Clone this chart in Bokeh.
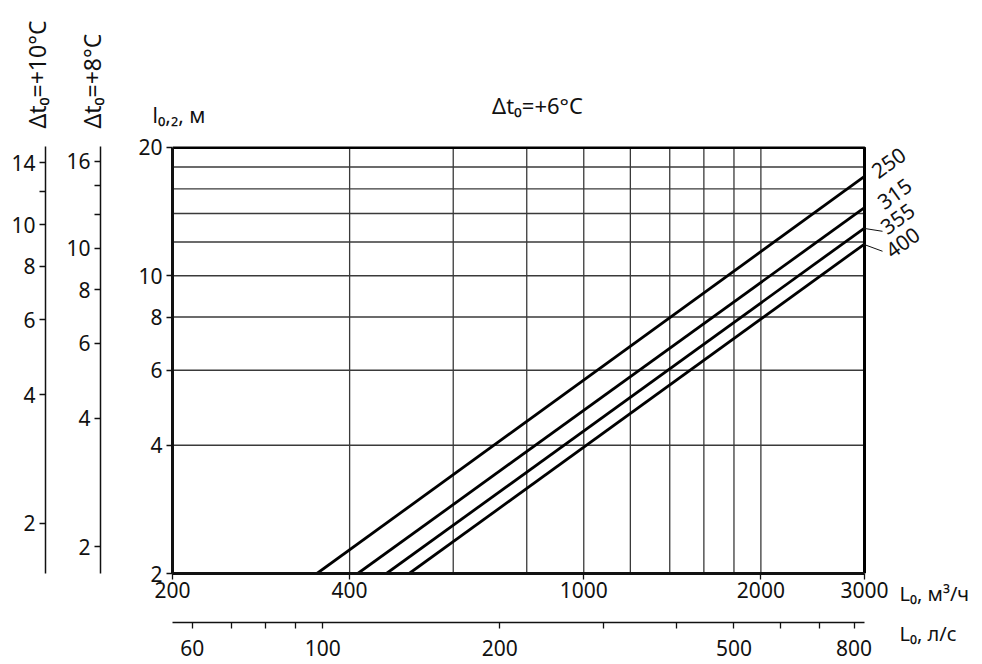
import math
from bokeh.plotting import figure
from bokeh.models import Range1d, LogAxis, FixedTicker, Label, LogScale
from bokeh.layouts import row
from bokeh.embed import file_html
from bokeh.resources import INLINE

# ---------------- data ----------------
diameters = ["250", "315", "355", "400"]
flow_start = [352, 413, 462, 505]          # L0, m3/h where l0,2 = 2 m
throw_start = [2, 2, 2, 2]                 # l0,2, m
flow_end = [3000, 3000, 3000, 3000]        # L0, m3/h
throw_end = [17.1, 14.45, 12.94, 11.87]    # l0,2, m at 3000 m3/h

x_ticks = [200, 400, 1000, 2000, 3000]
x_grid = [400, 600, 800, 1000, 1200, 1400, 1600, 1800, 2000]
y_ticks = [2, 4, 6, 8, 10, 20]
y_grid = [4, 6, 8, 10, 12, 14, 16, 18]

ls_ticks = [60, 70, 80, 90, 100, 200, 300, 400, 500, 600, 700, 800]
ls_labels = [60, 100, 200, 500, 800]
m3h_per_ls = 3.6

dt10_ticks = [2, 4, 6, 8, 10, 12, 14]
dt10_labels = [2, 4, 6, 8, 10, 14]
dt8_ticks = [2, 4, 6, 8, 10, 12, 14, 16]
dt8_labels = [2, 4, 6, 8, 10, 16]
k10 = 1.31    # l(+6°C) / l(+10°C)
k8 = 1.155    # l(+6°C) / l(+8°C)

X0, X1 = 200, 3000
Y0, Y1 = 2, 20

# ---------------- geometry (page pixels) ----------------
FONT = "Noto Sans"
FS = "21px"
H = 664
AX_L, AX_R, AX_T, AX_B = 172, 864, 146, 573   # drawn plot box
FR_T, FR_R = 145, 930                          # extended frame of main figure
BOT = H - AX_B


def mx(px):
    return X0 * (X1 / X0) ** ((px - AX_L) / (AX_R - AX_L))


def my(py):
    return Y0 * (Y1 / Y0) ** ((AX_B - py) / (AX_B - AX_T))


def style_axis(ax, lw=1.5):
    ax.axis_line_width = lw
    ax.axis_line_color = "#111111"
    ax.major_tick_line_color = "#111111"
    ax.major_tick_line_width = 1.3
    ax.major_tick_out = 6
    ax.major_tick_in = 0
    ax.minor_tick_out = 0
    ax.minor_tick_in = 0
    ax.major_label_text_font = FONT
    ax.major_label_text_font_size = FS
    ax.major_label_text_color = "#111111"
    ax.major_label_standoff = 4


def txt(x, y, s, **kw):
    opts = dict(text_align="left", text_baseline="middle", text_font=FONT,
                text_font_size=FS, text_color="#111111")
    opts.update(kw)
    return Label(x=x, y=y, text=s, **opts)


# ---------------- main figure ----------------
p = figure(width=982 - 120, height=H, x_axis_type="log", y_axis_type="log",
           x_range=Range1d(X0, mx(FR_R)), y_range=Range1d(Y0, my(FR_T)),
           min_border_left=AX_L - 120, min_border_right=982 - FR_R,
           min_border_top=FR_T, min_border_bottom=BOT,
           toolbar_location=None, output_backend="svg")
p.background_fill_color = "white"
p.border_fill_color = "white"
p.outline_line_color = None
p.xgrid.visible = False
p.ygrid.visible = False

p.xaxis.ticker = FixedTicker(ticks=x_ticks, minor_ticks=[])
p.yaxis.ticker = FixedTicker(ticks=y_ticks, minor_ticks=[])
p.xaxis.major_label_overrides = {t: str(t) for t in x_ticks}
p.yaxis.major_label_overrides = {t: str(t) for t in y_ticks}
style_axis(p.xaxis[0], 3)
style_axis(p.yaxis[0], 3)
p.xaxis.bounds = (X0, X1)
p.yaxis.bounds = (Y0, Y1)
p.xaxis.major_label_standoff = 2
p.xaxis.axis_label = " "
p.xaxis.axis_label_text_font_size = "1px"
p.xaxis.axis_label_standoff = 18

# secondary x axis in l/s
p.extra_x_ranges = {"ls": Range1d(X0 / m3h_per_ls, mx(FR_R) / m3h_per_ls)}
p.extra_x_scales = {"ls": LogScale()}
ax_ls = LogAxis(x_range_name="ls",
                ticker=FixedTicker(ticks=ls_ticks, minor_ticks=[]),
                major_label_overrides={t: (str(t) if t in ls_labels else "") for t in ls_ticks},
                bounds=(X0 / m3h_per_ls, X1 / m3h_per_ls))
style_axis(ax_ls, 1.5)
ax_ls.major_label_standoff = 11
p.add_layout(ax_ls, "below")

# grid lines
p.segment(x0=x_grid, y0=[Y0] * len(x_grid), x1=x_grid, y1=[Y1] * len(x_grid),
          line_color="#3a3a3a", line_width=1.3)
p.segment(x0=[X0] * len(y_grid), y0=y_grid, x1=[X1] * len(y_grid), y1=y_grid,
          line_color="#3a3a3a", line_width=1.3)

# curves
for i, d in enumerate(diameters):
    p.line([flow_start[i], flow_end[i]], [throw_start[i], throw_end[i]],
           line_color="black", line_width=2.8)

# top and right border of the plot box
p.line([X0, X1, X1], [Y1, Y1, Y0], line_color="black", line_width=3)

# curve labels and leader lines
ang = math.atan((AX_B - AX_T) / (AX_R - AX_L) * math.log10(X1 / X0) / math.log10(Y1 / Y0))
label_pos = [(888, 161), (894, 192), (897, 217), (902, 241)]
for d, (lx, ly) in zip(diameters, label_pos):
    p.add_layout(txt(mx(lx), my(ly), d, angle=ang, text_align="center"))
lead = [(863, 227, 882, 230), (863, 243, 882, 250)]
p.segment(x0=[mx(a[0]) for a in lead], y0=[my(a[1]) for a in lead],
          x1=[mx(a[2]) for a in lead], y1=[my(a[3]) for a in lead],
          line_color="#111111", line_width=1)

# texts outside the frame (side panel, not clipped)
p.add_layout(txt(mx(537), my(103), "Δt₀=+6°C", text_align="center",
                 text_font_size="22px"), "above")
p.add_layout(txt(mx(152), my(113), "l₀,₂, м"), "above")
p.add_layout(txt(mx(899), my(593), "L₀, м³/ч", text_font_size="20px"), "above")
p.add_layout(txt(mx(899), my(633), "L₀, л/с", text_font_size="20px"), "above")


# ---------------- left scales ----------------
def side_fig(x0, width, axis_x, k, ticks, labels, title, title_x_px):
    left = axis_x - x0
    f = figure(width=width, height=H, y_axis_type="log",
               x_range=Range1d(0, 1), y_range=Range1d(Y0 / k, Y1 / k),
               min_border_left=left, min_border_right=0,
               min_border_top=AX_T, min_border_bottom=BOT,
               x_axis_location=None, toolbar_location=None, output_backend="svg")
    f.outline_line_color = None
    f.background_fill_color = "white"
    f.border_fill_color = "white"
    f.xgrid.visible = False
    f.ygrid.visible = False
    f.yaxis.ticker = FixedTicker(ticks=ticks, minor_ticks=[])
    f.yaxis.major_label_overrides = {t: (str(t) if t in labels else "") for t in ticks}
    style_axis(f.yaxis[0], 1.5)
    fw = width - left
    f.add_layout(txt((title_x_px - axis_x) / fw, my(128) / k, title,
                     angle=math.pi / 2, text_font_size="23px"), "above")
    return f


f10 = side_fig(0, 60, 45, k10, dt10_ticks, dt10_labels, "Δt₀=+10°C", 36)
f8 = side_fig(60, 60, 100, k8, dt8_ticks, dt8_labels, "Δt₀=+8°C", 91)

layout = row(f10, f8, p)
open("out.html", "w").write(file_html(layout, INLINE))
